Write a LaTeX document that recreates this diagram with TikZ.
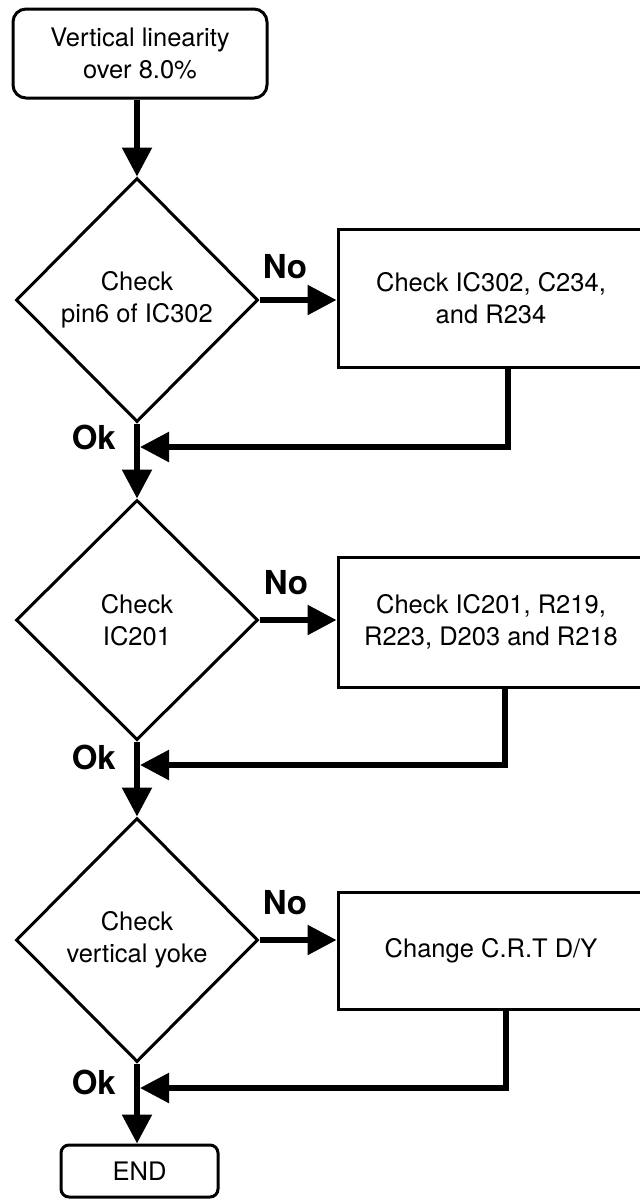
\documentclass[tikz,border=0pt]{standalone}
\usepackage{fontspec}
\setmainfont{TeX Gyre Heros}
\usetikzlibrary{shapes.geometric,arrows.meta}
\begin{document}
\begin{tikzpicture}[x=1pt,y=-1pt,
  txt/.style={font=\fontsize{25.5}{32}\selectfont, align=center},
  lbl/.style={font=\fontsize{33}{36}\selectfont\bfseries, inner sep=0pt},
  rbox/.style={draw, line width=3pt, rounded corners=13pt, inner sep=0pt, txt},
  dec/.style={draw, diamond, line width=3pt, inner sep=0pt, txt, minimum width=242pt},
  act/.style={draw, rectangle, line width=3pt, inner sep=0pt, txt, minimum width=306pt},
  flow/.style={line width=5.5pt, -{Triangle[length=29pt,width=29pt]}},
  link/.style={line width=5.5pt},
]
\clip (0,0) rectangle (640,1200);
\fill[white] (0,0) rectangle (640,1200);

\node[rbox, minimum width=254pt, minimum height=89pt] (start) at (140,53.5) {Vertical linearity\\over 8.0\%};

\node[dec, minimum height=244pt] (d1) at (137,300) {Check\\pin6 of IC302};
\node[dec, minimum height=240pt] (d2) at (137,620) {Check\\IC201};
\node[dec, minimum height=244pt] (d3) at (137,940) {Check\\vertical yoke};

\node[act, minimum height=138pt] (b1) at (491,298) {Check IC302, C234,\\and R234};
\node[act, minimum height=130pt] (b2) at (491,622) {Check IC201, R219,\\R223, D203 and R218};
\node[act, minimum height=117pt] (b3) at (491,950.5) {Change C.R.T D/Y};

\node[rbox, rounded corners=8pt, minimum width=157pt, minimum height=52pt] (fin) at (139.5,1171) {END};

\coordinate (m1) at (140,447);
\coordinate (m2) at (140,765);
\coordinate (m3) at (140,1088);

% main flow
\draw[flow] (start.south -| d1.north) -- (d1.north);
\draw[flow] (d1.south) -- (d2.north);
\draw[flow] (d2.south) -- (d3.north);
\draw[flow] (d3.south) -- (fin.north -| d3.south);

% No branches
\draw[flow] (d1.east) -- (d1.east -| b1.west);
\draw[flow] (d2.east) -- (d2.east -| b2.west);
\draw[flow] (d3.east) -- (d3.east -| b3.west);

% feedback
\draw[flow] ([xshift=17pt]b1.south) |- (m1);
\draw[flow] ([xshift=14pt]b2.south) |- (m2);
\draw[flow] ([xshift=15pt]b3.south) |- (m3);

% labels
\node[lbl] (no1) at (285,267) {No};
\node[lbl] (no2) at (286,583) {No};
\node[lbl] (no3) at (285,903) {No};
\node[lbl, anchor=east] (ok1) at (116,437) {Ok};
\node[lbl, anchor=east] (ok2) at (116,757) {Ok};
\node[lbl, anchor=east] (ok3) at (116,1082) {Ok};
\end{tikzpicture}
\end{document}
